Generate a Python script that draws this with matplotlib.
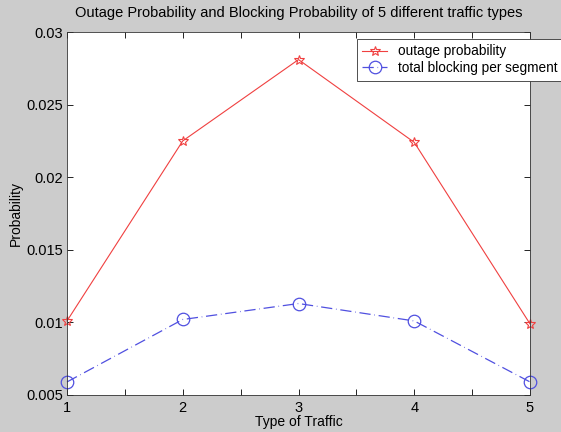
import matplotlib
matplotlib.use("Agg")
import matplotlib.pyplot as plt
from matplotlib.ticker import MultipleLocator

traffic_types = [1, 2, 3, 4, 5]
outage_prob = [0.0101, 0.0225, 0.0281, 0.0224, 0.0099]
blocking_prob = [0.0059, 0.0102, 0.0113, 0.0101, 0.0059]
yticks = [0.005, 0.01, 0.015, 0.02, 0.025, 0.03]
ytick_labels = ["0.005", "0.01", "0.015", "0.02", "0.025", "0.03"]

plt.rcParams['font.family'] = ['Liberation Sans', 'DejaVu Sans']

fig = plt.figure(figsize=(5.61, 4.32), dpi=100, facecolor='#cccccc')
ax = fig.add_axes([67/561, 1-395/432, (530-67)/561, (395-32)/432])
ax.set_facecolor('white')

red = '#f04040'
blue = '#5050e0'
ax.plot(traffic_types, outage_prob, color=red, lw=0.8, marker='*',
        ms=7, mfc='none', mec=red, mew=0.8, label='outage probability', clip_on=False)
ax.plot(traffic_types, blocking_prob, color=blue, lw=0.9, ls=(0, (9, 3, 0.5, 3)),
        marker='o', ms=9, mfc='none', mec=blue, mew=0.9,
        label='total blocking per segment', clip_on=False)

ax.set_xlim(1, 5)
ax.set_ylim(0.005, 0.03)
ax.set_xticks(traffic_types)
ax.xaxis.set_minor_locator(MultipleLocator(0.5))
ax.set_yticks(yticks)
ax.set_yticklabels(ytick_labels)
ax.tick_params(which='both', direction='in', top=True, right=True, length=4,
               width=0.6, labelsize=10.5, pad=3)
ax.tick_params(axis='x', pad=4)
for s in ax.spines.values():
    s.set_linewidth(0.6)
    s.set_color('#333333')

ax.set_xlabel('Type of Traffic', fontsize=10, labelpad=0.5)
ax.set_ylabel('Probability', fontsize=10, labelpad=2)
ax.set_title('Outage Probability and Blocking Probability of 5 different traffic types',
             fontsize=10.5, pad=11)

leg = fig.legend(loc='upper left', bbox_to_anchor=(357/561, 1-39/432),
                 fontsize=9.8, frameon=True, fancybox=False, framealpha=1,
                 edgecolor='#333333', handlelength=1.8, borderpad=0.4,
                 labelspacing=0.2, handletextpad=0.8, borderaxespad=0)
leg.get_frame().set_linewidth(0.6)

fig.savefig('out.png', dpi=100, facecolor=fig.get_facecolor())
